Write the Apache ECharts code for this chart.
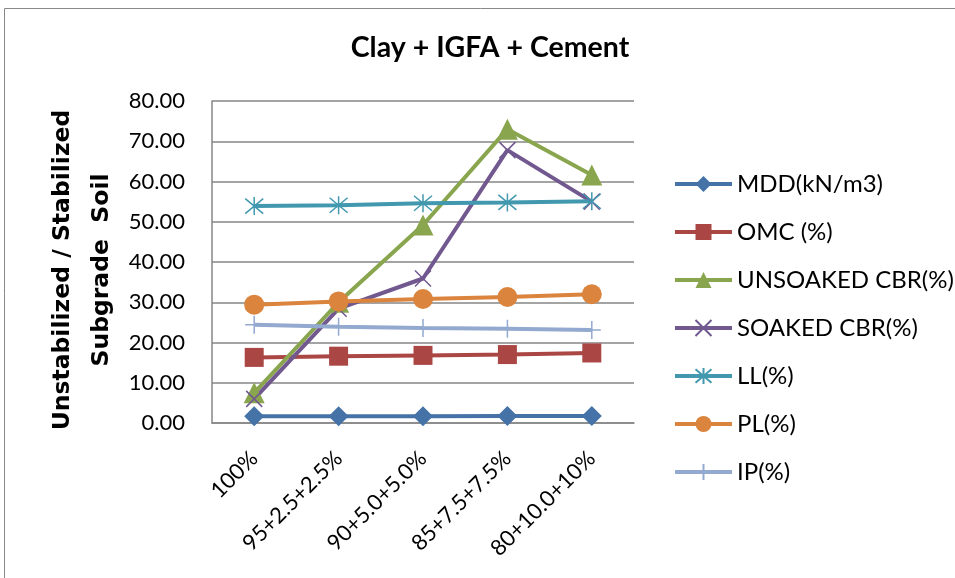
<html>
  <head>
    <meta charset="UTF-8" />
    <script src="https://cdn.jsdelivr.net/npm/echarts/dist/echarts.min.js"></script>
    <title>Clay + IGFA + Cement</title>
    <style>
      body { margin: 0; background: #fff; }
      #main { width: 955px; height: 578px; }
    </style>
  </head>
  <body>
    <div id="main"></div>
    <script>
      // mixes
      var categories = ['100%', '95+2.5+2.5%', '90+5.0+5.0%', '85+7.5+7.5%', '80+10.0+10%'];
      var seriesNames = ['MDD(kN/m3)', 'OMC (%)', 'UNSOAKED CBR(%)', 'SOAKED CBR(%)', 'LL(%)', 'PL(%)', 'IP(%)'];
      var mdd = [1.65, 1.68, 1.70, 1.72, 1.75];
      var omc = [16.3, 16.6, 16.8, 17.0, 17.4];
      var unsoaked = [7.5, 30.0, 49.2, 73.0, 61.6];
      var soaked = [6.0, 28.4, 35.9, 67.8, 55.0];
      var ll = [53.9, 54.1, 54.6, 54.8, 55.1];
      var pl = [29.4, 30.2, 30.8, 31.3, 32.0];
      var ip = [24.4, 23.9, 23.6, 23.4, 23.1];
      var yTicks = [0, 10, 20, 30, 40, 50, 60, 70, 80];

      var colors = ['#4572A7', '#AA4643', '#89A54E', '#71588F', '#4198AF', '#DB843D', '#93A9CF'];
      var crossPath = 'path://M0,0L10,10M10,0L0,10';
      var starPath = 'path://M0,0L10,10M10,0L0,10M5,-1L5,11';
      var plusPath = 'path://M5,0L5,10M0,5L10,5';

      function line(name, data, i, symbol, size, stroke) {
        return {
          name: name,
          type: 'line',
          data: data,
          symbol: symbol,
          symbolSize: size,
          lineStyle: { width: 4, color: colors[i] },
          itemStyle: stroke
            ? { color: colors[i], borderColor: colors[i], borderWidth: 1.5 }
            : { color: colors[i] }
        };
      }

      var chart = echarts.init(document.getElementById('main'));
      var font = 'Lato, "Open Sans", sans-serif';
      chart.setOption({
        animation: false,
        color: colors,
        textStyle: { fontFamily: font },
        title: {
          text: 'Clay + IGFA + Cement',
          left: 485,
          top: 28,
          textAlign: 'center',
          textStyle: { fontSize: 28.5, fontWeight: 'bold', color: '#000', fontFamily: font }
        },
        graphic: [{
          type: 'rect',
          shape: { x: 4.5, y: 8.5, width: 960, height: 580 },
          style: { fill: 'none', stroke: '#888', lineWidth: 1 },
          silent: true
        }],
        legend: {
          orient: 'vertical',
          left: 673,
          top: 172,
          padding: 0,
          itemWidth: 57,
          itemHeight: 20,
          itemGap: 24,
          data: seriesNames,
          lineStyle: { width: 4 },
          textStyle: { fontSize: 24, color: '#000', fontFamily: font }
        },
        grid: { left: 212, right: 321, top: 101, bottom: 155 },
        xAxis: {
          type: 'category',
          data: categories,
          boundaryGap: true,
          axisLine: { lineStyle: { color: '#868686', width: 1.5 } },
          axisTick: { show: false },
          axisLabel: { rotate: 45, fontSize: 22, color: '#000', margin: 32, interval: 0, fontFamily: font }
        },
        yAxis: {
          type: 'value',
          min: yTicks[0],
          max: yTicks[yTicks.length - 1],
          interval: 10,
          name: 'Unstabilized / Stabilized\nSubgrade  Soil',
          nameLocation: 'middle',
          nameGap: 91,
          nameTextStyle: { fontSize: 23.5, fontWeight: 'bold', color: '#000', fontFamily: 'DejaVu Sans', lineHeight: 39, padding: [0, 16, 0, 0] },
          axisLine: { show: true, lineStyle: { color: '#868686', width: 1.5 } },
          axisTick: { show: false },
          splitLine: { lineStyle: { color: '#868686', width: 1.5 } },
          axisLabel: {
            fontSize: 22, color: '#000', margin: 27, fontFamily: font,
            formatter: function (v) { return v.toFixed(2); }
          }
        },
        series: [
          line(seriesNames[0], mdd, 0, 'diamond', 20),
          line(seriesNames[1], omc, 1, 'rect', 19),
          line(seriesNames[2], unsoaked, 2, 'triangle', 21),
          line(seriesNames[3], soaked, 3, crossPath, 16, true),
          line(seriesNames[4], ll, 4, starPath, 18, true),
          line(seriesNames[5], pl, 5, 'circle', 20),
          line(seriesNames[6], ip, 6, plusPath, 18, true)
        ]
      });
    </script>
  </body>
</html>
